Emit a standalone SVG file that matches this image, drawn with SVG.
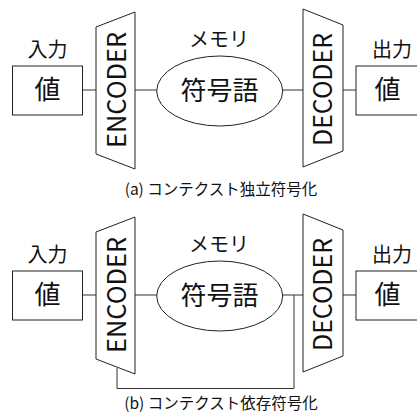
<svg xmlns="http://www.w3.org/2000/svg" width="417" height="414" viewBox="0 0 417 414">
<style>
.s{fill:#fff;stroke:#222;stroke-width:1}
.c{fill:none;stroke:#333;stroke-width:1}
text{font-family:"Noto Sans CJK JP","Noto Sans",sans-serif;fill:#111;text-anchor:middle}
.lb{font-size:20px}
.v{font-size:26px}
.cd{font-size:25px}
.cap{font-size:15.5px}
</style>
<rect width="417" height="414" fill="#fff"/>
<g id="connectors">
<line class="c" x1="82.5" y1="90" x2="96" y2="90"/>
<line class="c" x1="135" y1="90" x2="156.7" y2="90"/>
<line class="c" x1="282.7" y1="90" x2="303" y2="90"/>
<line class="c" x1="343" y1="90" x2="356" y2="90"/>
<line class="c" x1="82.5" y1="295" x2="96" y2="295"/>
<line class="c" x1="135" y1="295" x2="156.7" y2="295"/>
<line class="c" x1="282.7" y1="295" x2="303" y2="295"/>
<line class="c" x1="343" y1="295" x2="356" y2="295"/>
<polyline class="c" points="117,368 117,388.5 294,388.5 294,295"/>
</g>
<g id="a-input">
<text class="lb" x="47.5" y="57">入力</text>
<rect class="s" x="12.5" y="66" width="70" height="49"/>
<text class="v" x="47.5" y="99">値</text>
</g>
<g id="a-encoder">
<polygon class="s" points="96,27 135,12 135,169 96,154"/>
<text class="cd" transform="translate(126,90) rotate(-90)" textLength="116" lengthAdjust="spacingAndGlyphs">ENCODER</text>
</g>
<g id="a-memory">
<text class="lb" x="219" y="47">メモリ</text>
<ellipse class="s" cx="219.7" cy="91" rx="63" ry="35"/>
<text class="v" x="219.5" y="100">符号語</text>
</g>
<g id="a-decoder">
<polygon class="s" points="303,9 343,25 343,151 303,167"/>
<text class="cd" transform="translate(332,89.5) rotate(-90)" textLength="113" lengthAdjust="spacingAndGlyphs">DECODER</text>
</g>
<g id="a-output">
<text class="lb" x="392" y="57">出力</text>
<rect class="s" x="356" y="66" width="70" height="49"/>
<text class="v" x="387.5" y="99">値</text>
</g>
<g id="a-caption">
<text class="cap" x="221" y="195">(a) コンテクスト独立符号化</text>
</g>
<g id="b-input">
<text class="lb" x="47.5" y="262">入力</text>
<rect class="s" x="12.5" y="271" width="70" height="49"/>
<text class="v" x="47.5" y="304">値</text>
</g>
<g id="b-encoder">
<polygon class="s" points="96,232 135,217 135,374 96,359"/>
<text class="cd" transform="translate(126,295) rotate(-90)" textLength="116" lengthAdjust="spacingAndGlyphs">ENCODER</text>
</g>
<g id="b-memory">
<text class="lb" x="219" y="252">メモリ</text>
<ellipse class="s" cx="219.7" cy="296" rx="63" ry="35"/>
<text class="v" x="219.5" y="305">符号語</text>
</g>
<g id="b-decoder">
<polygon class="s" points="303,214 343,230 343,356 303,372"/>
<text class="cd" transform="translate(332,294.5) rotate(-90)" textLength="113" lengthAdjust="spacingAndGlyphs">DECODER</text>
</g>
<g id="b-output">
<text class="lb" x="392" y="262">出力</text>
<rect class="s" x="356" y="271" width="70" height="49"/>
<text class="v" x="387.5" y="304">値</text>
</g>
<g id="b-caption">
<text class="cap" x="221" y="409">(b) コンテクスト依存符号化</text>
</g>
</svg>
